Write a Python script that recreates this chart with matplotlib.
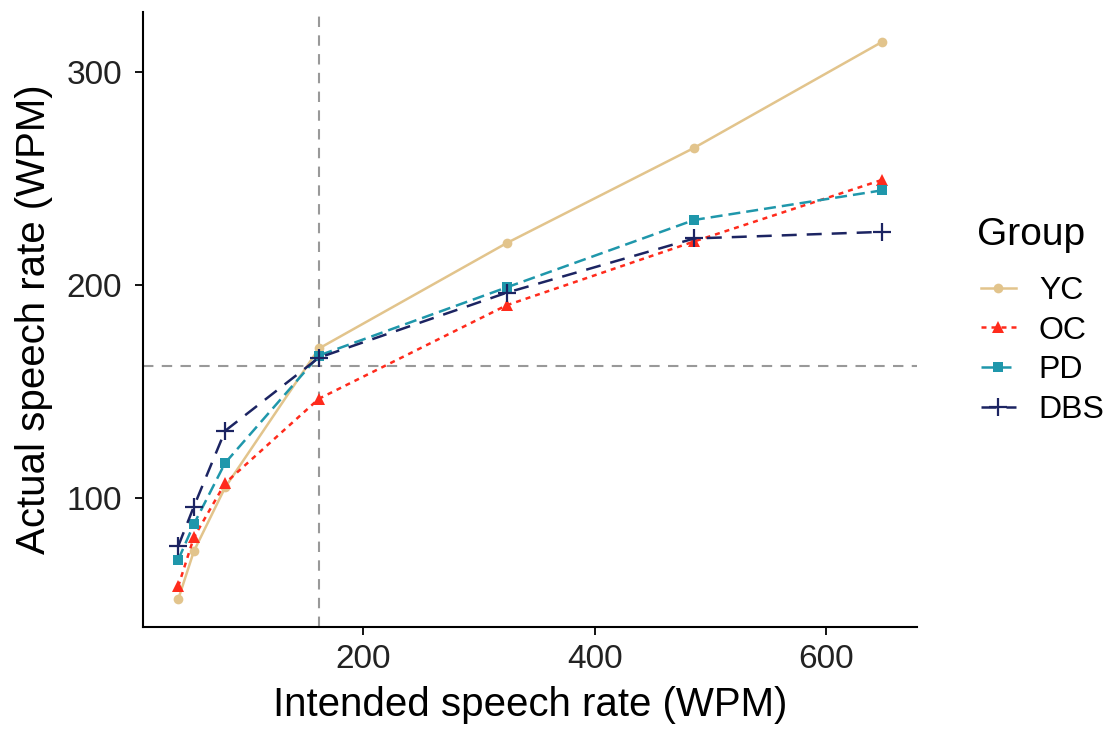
import matplotlib
matplotlib.use("Agg")
import matplotlib.pyplot as plt

plt.rcParams['font.family'] = ['Liberation Sans', 'DejaVu Sans']

intended = [40.5, 54, 81, 162, 324, 486, 648]
groups = ['YC', 'OC', 'PD', 'DBS']
yc = [52.4, 75, 105, 170.3, 219.8, 264.6, 314.3]
oc = [58.5, 81.5, 107, 146.7, 190.6, 220.6, 249.5]
pd_ = [71, 87.7, 116.5, 167, 199, 230.7, 244.6]
dbs = [77.4, 96, 131.6, 166, 196.5, 222, 225.1]
ref_rate = 162

series = [yc, oc, pd_, dbs]
colors = ['#E2C48C', '#FF2B1C', '#1F97AB', '#1C2462']
markers = ['o', '^', 's', '+']
msizes = [7, 9, 7, 13]
dashes = [None, (2, 2), (4.8, 2.4), (6, 4)]

fig = plt.figure(figsize=(11.17, 7.38), dpi=100)
ax = fig.add_axes([0.128, 0.150, 0.693, 0.834])

ax.axvline(ref_rate, color='#999999', lw=1.5, dashes=(5, 4), zorder=1)
ax.axhline(ref_rate, color='#999999', lw=1.5, dashes=(5, 4), zorder=1)

handles = []
for g, ys, c, m, ms, d in zip(groups, series, colors, markers, msizes, dashes):
    ln, = ax.plot(intended, ys, color=c, marker=m, markersize=ms, lw=1.8,
                  markeredgewidth=1.6 if m == '+' else 0, label=g, zorder=3)
    if d is not None:
        ln.set_dashes(d)
    handles.append(ln)

ax.set_xlim(10.1, 678.4)
ax.set_ylim(39.3, 328.5)
ax.set_xticks([200, 400, 600])
ax.set_yticks([100, 200, 300])
for s in ['top', 'right']:
    ax.spines[s].set_visible(False)
for s in ['left', 'bottom']:
    ax.spines[s].set_linewidth(1.5)
ax.tick_params(direction='out', length=6, width=1.3, labelsize=24,
               labelcolor='#222222')
ax.tick_params(axis='x', pad=6)
ax.tick_params(axis='y', pad=9)
ax.set_xlabel('Intended speech rate (WPM)', fontsize=29, labelpad=8)
ax.set_ylabel('Actual speech rate (WPM)', fontsize=29, labelpad=10)

fig.text(0.875, 0.668, 'Group', fontsize=28, va='baseline', ha='left')
leg = fig.legend(handles=handles, labels=groups,
                 loc='upper left', bbox_to_anchor=(0.878, 0.626),
                 frameon=False, fontsize=23,
                 handlelength=1.1, labelspacing=0.3, handletextpad=0.72,
                 borderpad=0, borderaxespad=0)

fig.savefig('out.png', dpi=100)
